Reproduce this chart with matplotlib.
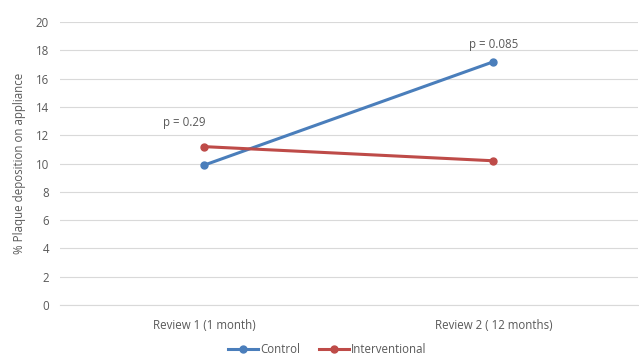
import matplotlib.pyplot as plt
import numpy as np

categories = ['Review 1 (1 month)', 'Review 2 ( 12 months)']
control = [9.9, 17.2]
interventional = [11.2, 10.2]
p_labels = ['p = 0.29', 'p = 0.085']
p_heights = [12.9, 18.4]

plt.rcParams['font.family'] = ['Open Sans', 'DejaVu Sans']
grey = '#595959'

fig = plt.figure(figsize=(6.39, 3.58), dpi=100)
ax = fig.add_axes([0.094, 0.148, 0.904, 0.79])

x = np.arange(len(categories))
ax.plot(x, control, color='#4A7EBB', lw=2.2, marker='o', ms=5, label='Control', zorder=3)
ax.plot(x, interventional, color='#BE4B48', lw=2.2, marker='o', ms=5, label='Interventional', zorder=3)

for xi, txt, h in zip(x, p_labels, p_heights):
    ax.text(xi - 0.07 if xi == 0 else xi, h, txt, ha='center', va='center', fontsize=8.3, color=grey)

ax.set_xlim(-0.5, 1.5)
ax.set_ylim(0, 20)
ax.set_yticks(np.arange(0, 21, 2))
ax.set_xticks(x)
ax.set_xticklabels(categories)
ax.yaxis.grid(True, color='#D9D9D9', lw=0.8)
ax.set_axisbelow(True)
for s in ['top', 'right', 'left']:
    ax.spines[s].set_visible(False)
ax.spines['bottom'].set_color('#D9D9D9')
ax.tick_params(axis='both', length=0, labelsize=8.3, labelcolor=grey, pad=8)
ax.tick_params(axis='x', pad=10)
ax.set_ylabel('% Plaque deposition on appliance', fontsize=8.3, color=grey, labelpad=7)

ax.legend(loc='lower center', bbox_to_anchor=(0.512, 0.0), bbox_transform=fig.transFigure,
          ncol=2, frameon=False, borderaxespad=0.05, borderpad=0.1,
          fontsize=8.3, labelcolor=grey, handlelength=2.6, handletextpad=0.2, columnspacing=1.6)

plt.savefig('out.png', dpi=100)
